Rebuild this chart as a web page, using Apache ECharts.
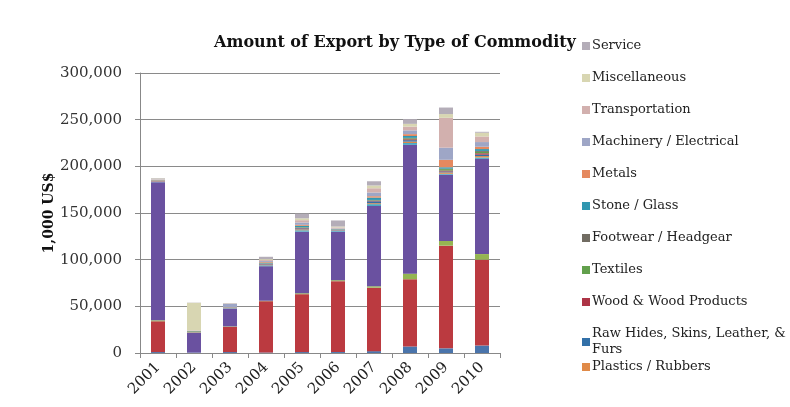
<!DOCTYPE html>
<html>
<head>
<meta charset="utf-8">
<script src="https://cdn.jsdelivr.net/npm/echarts@6/dist/echarts.min.js"></script>
<style>
  html, body { margin: 0; padding: 0; background: #fff; }
  #chart { width: 790px; height: 407px; }
</style>
</head>
<body>
<div id="chart"></div>
<script>
var years = ['2001', '2002', '2003', '2004', '2005', '2006', '2007', '2008', '2009', '2010'];

// stacked from the bottom up; the first five are cut off from the legend
var animal       = [1000, 500, 1000, 500, 1000, 1000, 2000, 7000, 5000, 8000];
var vegetable    = [33000, 0, 27000, 55000, 62000, 76000, 68000, 72000, 110000, 92000];
var foodstuffs   = [1000, 0, 500, 500, 1000, 1000, 1500, 6000, 5000, 6000];
var minerals     = [148000, 21000, 19000, 37000, 66000, 52000, 86000, 138000, 71000, 102000];
var chemicals    = [500, 300, 300, 1000, 1500, 1000, 2000, 2000, 1000, 1500];
var plastics     = [300, 500, 200, 500, 1000, 300, 1000, 1500, 1500, 1500];
var rawHides     = [200, 200, 200, 500, 1000, 300, 2000, 1500, 1000, 1500];
var wood         = [500, 300, 300, 500, 500, 300, 500, 1000, 1000, 1500];
var textiles     = [200, 500, 200, 300, 500, 200, 500, 1000, 1500, 1500];
var footwear     = [100, 100, 100, 200, 300, 100, 500, 500, 500, 1000];
var stone        = [300, 200, 200, 800, 1500, 500, 2500, 2000, 1500, 2000];
var metals       = [300, 200, 200, 800, 1000, 300, 1500, 2000, 8000, 2500];
var machinery    = [500, 300, 3500, 1000, 2500, 500, 4000, 4000, 13000, 5000];
var transport    = [300, 200, 300, 1000, 2500, 1000, 4500, 4000, 32000, 6000];
var misc         = [800, 29500, 300, 1000, 2000, 1000, 3000, 3000, 4000, 4000];
var service      = [500, 200, 300, 2500, 5000, 6500, 4500, 5000, 7000, 1000];

var seriesList = [
  ['Animal Products', animal, '#4a74ab'],
  ['Vegetable Products', vegetable, '#bb3a40'],
  ['Foodstuffs', foodstuffs, '#95b552'],
  ['Mineral Products', minerals, '#6a51a0'],
  ['Chemicals', chemicals, '#4aa9c4'],
  ['Plastics / Rubbers', plastics, '#e08a48'],
  ['Raw Hides, Skins, Leather, & Furs', rawHides, '#3270a8'],
  ['Wood & Wood Products', wood, '#ad3446'],
  ['Textiles', textiles, '#62a04c'],
  ['Footwear / Headgear', footwear, '#716c62'],
  ['Stone / Glass', stone, '#3197b0'],
  ['Metals', metals, '#e5895f'],
  ['Machinery / Electrical', machinery, '#9ea6c6'],
  ['Transportation', transport, '#d2b0ae'],
  ['Miscellaneous', misc, '#d8d6b2'],
  ['Service', service, '#b4adb8']
];

var legendTop = ['Service', 'Miscellaneous', 'Transportation', 'Machinery / Electrical',
  'Metals', 'Stone / Glass', 'Footwear / Headgear', 'Textiles', 'Wood & Wood Products',
  'Raw Hides, Skins, Leather, & Furs'];
var legendBottom = ['Plastics / Rubbers'];

var font = 'DejaVu Serif';

var series = [];
for (var i = 0; i < seriesList.length; i++) {
  series.push({
    name: seriesList[i][0],
    type: 'bar',
    stack: 'total',
    barWidth: 14,
    data: seriesList[i][1],
    itemStyle: { color: seriesList[i][2] }
  });
}

var legendStyle = {
  orient: 'vertical',
  left: 577,
  icon: 'rect',
  itemWidth: 8,
  itemHeight: 8,
  itemGap: 16,
  textStyle: { fontFamily: font, fontSize: 13, color: '#222', lineHeight: 16, padding: [0, 0, 0, -3] },
  formatter: function(name) {
    if (name === 'Raw Hides, Skins, Leather, & Furs') return 'Raw Hides, Skins, Leather, &\nFurs';
    return name;
  }
};

var option = {
  backgroundColor: '#fff',
  animation: false,
  title: {
    text: 'Amount of Export by Type of Commodity',
    left: 'center',
    top: 30,
    textStyle: { fontFamily: font, fontSize: 16, fontWeight: 'bold', color: '#111' }
  },
  legend: [
    Object.assign({}, legendStyle, { top: 33, data: legendTop }),
    Object.assign({}, legendStyle, { top: 354, data: legendBottom })
  ],
  grid: { left: 140, right: 290, top: 73, bottom: 54 },
  xAxis: {
    type: 'category',
    data: years,
    axisLine: { lineStyle: { color: '#888' } },
    axisTick: { show: true, length: 5, lineStyle: { color: '#888' } },
    axisLabel: { rotate: 45, margin: 12, fontFamily: font, fontSize: 15, color: '#222' }
  },
  yAxis: {
    type: 'value',
    min: 0,
    max: 300000,
    interval: 50000,
    name: '1,000 US$',
    nameLocation: 'middle',
    nameRotate: 90,
    nameGap: 82,
    nameTextStyle: { fontFamily: font, fontSize: 14, fontWeight: 'bold', color: '#111' },
    axisLine: { show: true, lineStyle: { color: '#888' } },
    axisTick: { show: true, length: 5, lineStyle: { color: '#888' } },
    splitLine: { lineStyle: { color: '#8a8a8a' } },
    axisLabel: {
      margin: 18,
      fontFamily: font,
      fontSize: 15,
      color: '#333',
      formatter: function(v) { return v.toLocaleString('en-US'); }
    }
  },
  series: series
};

var myChart = echarts.init(document.getElementById('chart'));
myChart.setOption(option);
</script>
</body>
</html>
